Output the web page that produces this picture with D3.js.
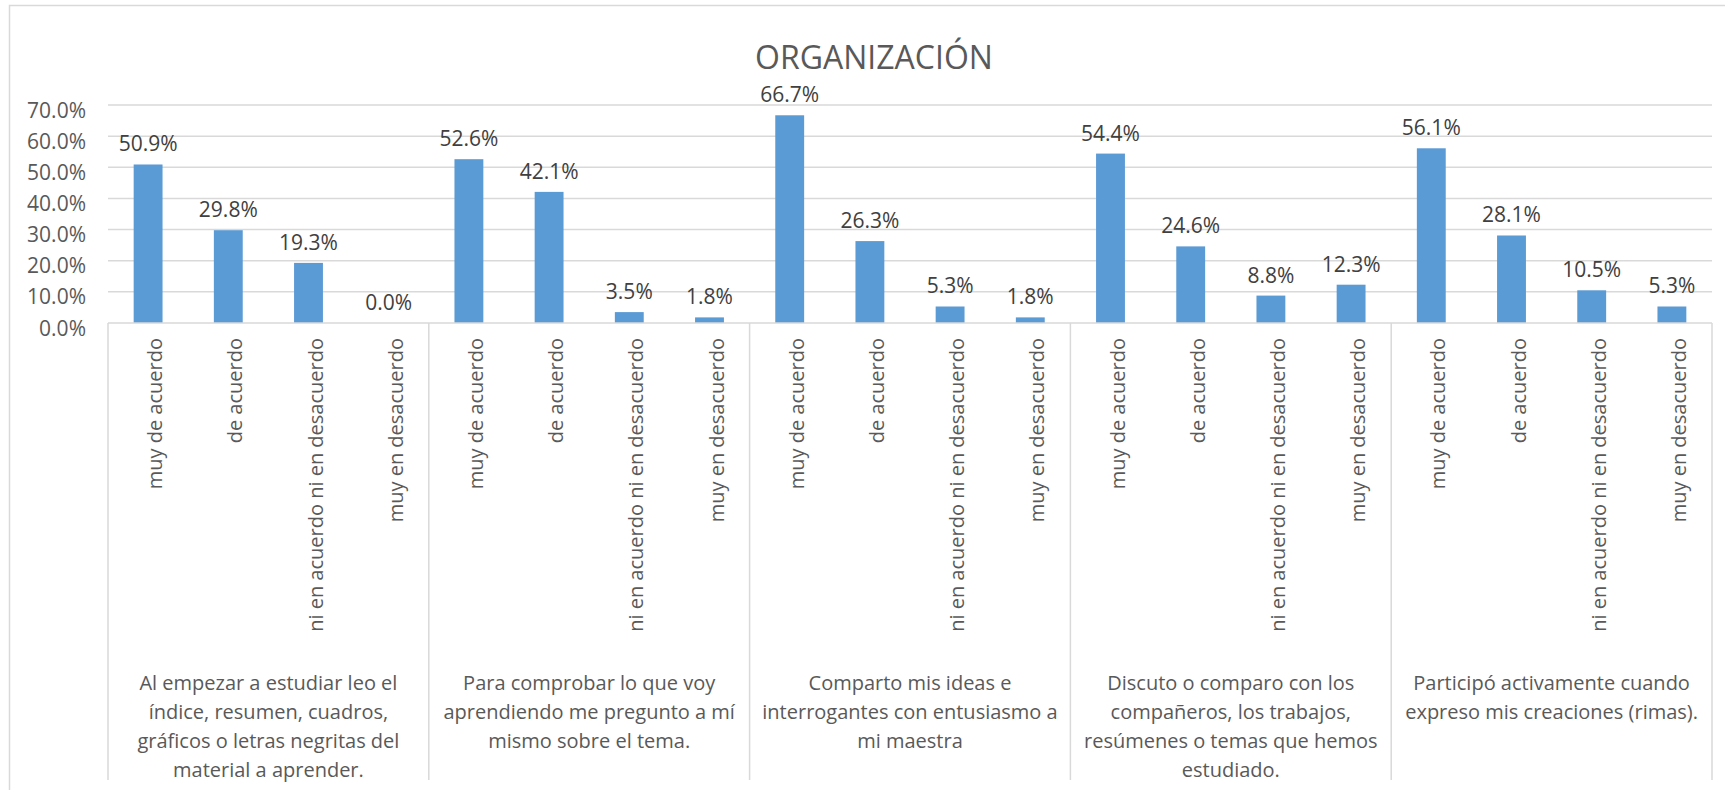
<!DOCTYPE html>
<meta charset="utf-8">
<style>
body { margin: 0; background: #fff; }
text { font-family: "Open Sans", sans-serif; }
.grid line { stroke: #d9d9d9; stroke-width: 1.5px; }
.tick-label { font-size: 21px; fill: #595959; }
.bar-label { font-size: 21px; fill: #404040; }
.cat-label { font-size: 20px; fill: #595959; }
.group-label { font-size: 20px; fill: #595959; }
.title { font-size: 32px; fill: #595959; }
</style>
<svg width="1725" height="790"></svg>
<script src="https://cdn.jsdelivr.net/npm/d3@7"></script>
<script>

var groups = [
  ["Al empezar a estudiar leo el", "índice, resumen, cuadros,", "gráficos o letras negritas del", "material a aprender."],
  ["Para comprobar lo que voy", "aprendiendo me pregunto a mí", "mismo sobre el tema."],
  ["Comparto mis ideas e", "interrogantes con entusiasmo a", "mi maestra"],
  ["Discuto o comparo con los", "compañeros, los trabajos,", "resúmenes o temas que hemos", "estudiado."],
  ["Participó activamente cuando", "expreso mis creaciones (rimas)."]
];
var answers = ["muy de acuerdo", "de acuerdo", "ni en acuerdo ni en desacuerdo", "muy en desacuerdo"];
var values = [
  [0.509, 0.298, 0.193, 0.000],
  [0.526, 0.421, 0.035, 0.018],
  [0.667, 0.263, 0.053, 0.018],
  [0.544, 0.246, 0.088, 0.123],
  [0.561, 0.281, 0.105, 0.053]
];
var yTicks = [0, 0.1, 0.2, 0.3, 0.4, 0.5, 0.6, 0.7];

var svg = d3.select("svg"),
    margin = {left: 108, right: 13, top: 105, plotBottom: 323};

svg.append("rect")
    .attr("x", 9.5).attr("y", 5.5)
    .attr("width", 1760).attr("height", 800)
    .attr("fill", "#fff").attr("stroke", "#d9d9d9").attr("stroke-width", 1.5);

var x0 = d3.scaleBand()
    .domain(d3.range(groups.length))
    .range([margin.left, 1725 - margin.right]);

var x1 = d3.scaleBand()
    .domain(answers)
    .range([0, x0.bandwidth()])
    .paddingInner(0.64)
    .paddingOuter(0.32);

var y = d3.scaleLinear()
    .domain([0, 0.7])
    .range([margin.plotBottom, margin.top]);

var pct = d3.format(".1%");

// gridlines
svg.append("g").attr("class", "grid")
  .selectAll("line")
  .data(yTicks.slice(1))
  .enter().append("line")
    .attr("x1", x0.range()[0]).attr("x2", x0.range()[1])
    .attr("y1", function(d) { return y(d); })
    .attr("y2", function(d) { return y(d); });

svg.selectAll(".tick-label")
  .data(yTicks)
  .enter().append("text")
    .attr("class", "tick-label")
    .attr("x", margin.left - 22)
    .attr("y", function(d) { return y(d); })
    .attr("dy", "0.6em")
    .attr("text-anchor", "end")
    .text(pct);

// title
svg.append("text")
    .attr("class", "title")
    .attr("x", 874).attr("y", 69)
    .attr("text-anchor", "middle")
    .text("ORGANIZACIÓN");

// bars
var g = svg.selectAll(".group")
  .data(values)
  .enter().append("g")
    .attr("class", "group")
    .attr("transform", function(d, i) { return "translate(" + x0(i) + ",0)"; });

g.selectAll("rect")
  .data(function(d) { return d.map(function(v, j) { return {key: answers[j], value: v}; }); })
  .enter().append("rect")
    .attr("x", function(d) { return x1(d.key); })
    .attr("width", x1.bandwidth())
    .attr("y", function(d) { return y(d.value); })
    .attr("height", function(d) { return y(0) - y(d.value); })
    .attr("fill", "#5b9bd5");

g.selectAll(".bar-label")
  .data(function(d) { return d.map(function(v, j) { return {key: answers[j], value: v}; }); })
  .enter().append("text")
    .attr("class", "bar-label")
    .attr("x", function(d) { return x1(d.key) + x1.bandwidth() / 2; })
    .attr("y", function(d) { return y(d.value) - 13; })
    .attr("text-anchor", "middle")
    .text(function(d) { return pct(d.value); });

// rotated category labels
g.selectAll(".cat-label")
  .data(answers)
  .enter().append("text")
    .attr("class", "cat-label")
    .attr("transform", function(d) { return "translate(" + (x1(d) + x1.bandwidth() / 2) + ",338) rotate(-90)"; })
    .attr("dy", "0.7em")
    .attr("text-anchor", "end")
    .text(function(d) { return d; });

// group labels
g.append("text")
    .attr("class", "group-label")
    .attr("text-anchor", "middle")
  .selectAll("tspan")
  .data(function(d, i) { return groups[i]; })
  .enter().append("tspan")
    .attr("x", x0.bandwidth() / 2)
    .attr("y", function(d, k) { return 690 + k * 29; })
    .text(function(d) { return d; });

// axis line and group dividers
svg.append("line")
    .attr("x1", x0.range()[0]).attr("x2", x0.range()[1])
    .attr("y1", y(0)).attr("y2", y(0))
    .attr("stroke", "#d9d9d9").attr("stroke-width", 1.5);

svg.selectAll(".divider")
  .data(d3.range(groups.length + 1))
  .enter().append("line")
    .attr("class", "divider")
    .attr("x1", function(i) { return margin.left + i * x0.step(); })
    .attr("x2", function(i) { return margin.left + i * x0.step(); })
    .attr("y1", y(0)).attr("y2", 780)
    .attr("stroke", "#d9d9d9").attr("stroke-width", 1.5);

</script>
